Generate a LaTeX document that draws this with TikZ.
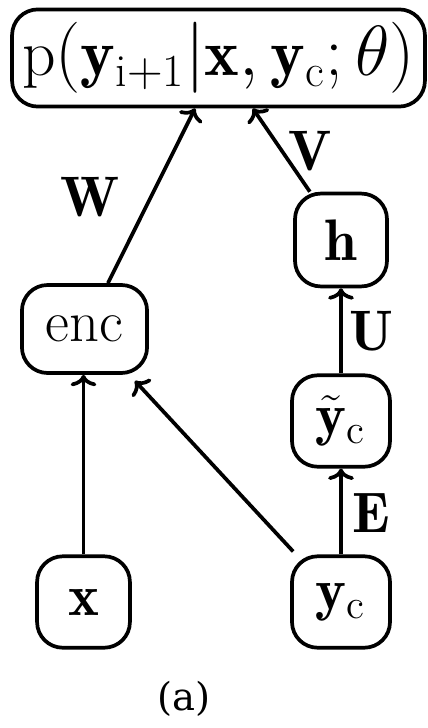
\documentclass[tikz,border=0pt]{standalone}
\usepackage{fontspec}
\newfontfamily\capfont{DejaVu Serif}
\usetikzlibrary{arrows.meta}
\begin{document}
\begin{tikzpicture}[x=0.35pt,y=-0.35pt,
  box/.style={draw,line width=1.3pt,rounded corners=9pt,inner sep=0pt,minimum height=32pt,font=\fontsize{20.5}{24}\selectfont},
  lab/.style={font=\fontsize{20}{24}\selectfont},
  arr/.style={line width=1.3pt,-{To[length=4pt,width=9pt]}}]
\useasboundingbox (0,0) rectangle (428,728);
\node[box,minimum width=144.5pt,minimum height=34pt,font=\fontsize{23}{27}\selectfont] (top) at (218.5,58)
  {$\mathrm{p}(\mathbf{y}_{\mathrm{i+1}}|\mathbf{x},\mathbf{y}_{\mathrm{c}};\theta)$};
\node[box,minimum width=43.8pt,minimum height=30.8pt] (enc) at (84.5,329) {enc};
\node[box,minimum width=32.2pt,minimum height=32.5pt] (h) at (341,240) {$\mathbf{h}$};
\node[box,minimum width=34.3pt] (yt) at (341,421) {$\tilde{\mathbf{y}}_{\mathrm{c}}$};
\node[box,minimum width=32.5pt] (x) at (83.5,602) {$\mathbf{x}$};
\node[box,minimum width=34.3pt] (yc) at (341,602) {$\mathbf{y}_{\mathrm{c}}$};
\draw[arr] (x.north) -- (x.north |- enc.south);
\draw[arr] ([shift={(3,-3)}]yc.north west) -- ([shift={(-14,6)}]enc.south east);
\draw[arr] (yc.north) -- (yt.south);
\draw[arr] (yt.north) -- (h.south);
\draw[arr] ([xshift=8.2pt]enc.north) -- ([xshift=-8.2pt]top.south);
\draw[arr] ([xshift=-10.9pt]h.north) -- ([xshift=12pt]top.south);
\node[lab] (W) at (90,197) {$\mathbf{W}$};
\node[lab] (V) at (310,151) {$\mathbf{V}$};
\node[lab] (U) at (371,331) {$\mathbf{U}$};
\node[lab] (E) at (371,513) {$\mathbf{E}$};
\node[font=\capfont\fontsize{13.5}{16}\selectfont] (cap) at (184,699) {(a)};
\end{tikzpicture}
\end{document}
